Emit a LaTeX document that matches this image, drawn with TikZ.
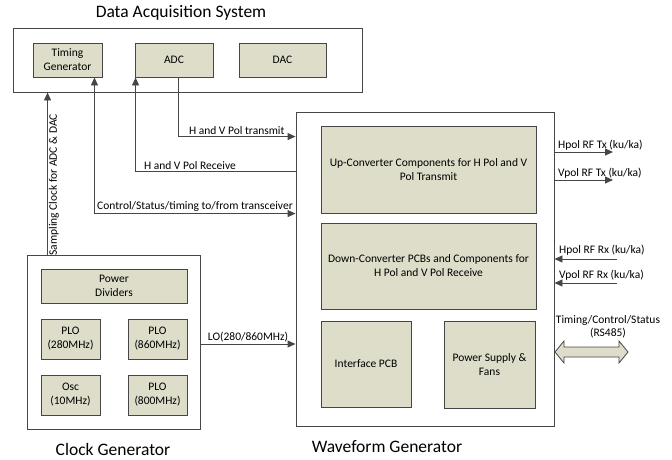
\documentclass[tikz,border=0pt]{standalone}
\usepackage{fontspec}
\setmainfont{Carlito}
\usetikzlibrary{arrows.meta}
\definecolor{boxfill}{RGB}{221,221,202}
\definecolor{edge}{RGB}{70,70,70}
\tikzset{
  outer/.style={draw=edge, line width=0.9pt, fill=white, inner sep=0pt},
  inbox/.style={draw=edge, line width=0.9pt, fill=boxfill, align=center, inner sep=1pt, font=\fontsize{11.5}{14}\selectfont},
  arr/.style={draw=edge, line width=0.9pt, -{Triangle[length=8pt,width=7pt]}},
  arrb/.style={draw=edge, line width=0.9pt, {Triangle[length=8pt,width=7pt]}-{Triangle[length=8pt,width=7pt]}},
  lbl/.style={font=\fontsize{11.5}{12.5}\selectfont, inner sep=1.5pt},
  ttl/.style={font=\fontsize{17.5}{19}\selectfont}
}
\begin{document}
\begin{tikzpicture}[x=1pt,y=-1pt]
\useasboundingbox (0,0) rectangle (672,459);
% Data acquisition system
\node[ttl] (dast) at (181,13) {Data Acquisition System};
\node[outer, minimum width=349pt, minimum height=64pt] (das) at (187.5,60) {};
\node[inbox, minimum width=69pt, minimum height=34pt] (tg) at (67.5,60) {Timing\\Generator};
\node[inbox, minimum width=78pt, minimum height=34pt] (adc) at (174,60) {ADC};
\node[inbox, minimum width=87pt, minimum height=34pt] (dac) at (282.5,60) {DAC};
% Clock generator
\node[outer, minimum width=173pt, minimum height=174pt] (cg) at (113.5,342) {};
\node[inbox, minimum width=146pt, minimum height=34pt] (pd) at (114,286) {Power\\Dividers};
\node[inbox, minimum width=59pt, minimum height=40pt] (plo1) at (70.5,339) {PLO\\(280MHz)};
\node[inbox, minimum width=59pt, minimum height=40pt] (plo2) at (157.5,339) {PLO\\(860MHz)};
\node[inbox, minimum width=59pt, minimum height=40pt] (osc) at (70.5,395) {Osc\\(10MHz)};
\node[inbox, minimum width=59pt, minimum height=40pt] (plo3) at (157.5,395) {PLO\\(800MHz)};
\node[ttl] (cgt) at (113,449) {Clock Generator};
% Waveform generator
\node[outer, minimum width=258pt, minimum height=314pt] (wg) at (425,269) {};
\node[inbox, minimum width=215pt, minimum height=87pt] (up) at (428.5,169.5) {Up-Converter Components for H Pol and V\\Pol Transmit};
\node[inbox, minimum width=215pt, minimum height=86pt] (down) at (428.5,266) {Down-Converter PCBs and Components for\\H Pol and V Pol Receive};
\node[inbox, minimum width=90pt, minimum height=86pt] (ifc) at (366,364) {Interface PCB};
\node[inbox, minimum width=91pt, minimum height=87pt] (ps) at (489.5,364.5) {Power Supply \&\\Fans};
\node[ttl] (wgt) at (387,447) {Waveform Generator};
% connectors between systems
\draw[arr] ([xshift=21pt]cg.north west) -- ([xshift=21pt]cg.north west |- das.south)
  node[pos=0.43, rotate=90, anchor=north, lbl, inner sep=1pt] {Sampling Clock for ADC \& DAC};
\draw[arr] ([xshift=4pt]adc.south) |- ([yshift=-25pt]wg.north west)
  node[pos=0.75, above, lbl] {H and V Pol transmit};
\draw[arr] ([yshift=-60pt]wg.north west) -| ([xshift=1pt]adc.south west)
  node[pos=0.33, above, lbl] {H and V Pol Receive};
\draw[arrb] ([xshift=-8pt]tg.south east) |- ([yshift=-102pt]wg.north west)
  node[pos=0.75, above, lbl] {Control/Status/timing to/from transceiver};
\draw[arr] ([yshift=-2pt]cg.east) -- ([yshift=-2pt]cg.east -| wg.west)
  node[midway, above, lbl] {LO(280/860MHz)};
% RF ports
\coordinate (htx) at (613,152);
\coordinate (vtx) at (613,180);
\coordinate (hrx) at (617,259);
\coordinate (vrx) at (617,283);
\draw[arr] (htx -| wg.east) -- (htx);
\draw[arr] (vtx -| wg.east) -- (vtx);
\draw[arr] (hrx) -- (hrx -| wg.east);
\draw[arr] (vrx) -- (vrx -| wg.east);
\node[lbl, anchor=south west] (lhtx) at ([xshift=2pt]htx -| wg.east) {Hpol RF Tx (ku/ka)};
\node[lbl, anchor=south west] (lvtx) at ([xshift=2pt]vtx -| wg.east) {Vpol RF Tx (ku/ka)};
\node[lbl, anchor=south west] (lhrx) at ([xshift=3pt,yshift=2pt]hrx -| wg.east) {Hpol RF Rx (ku/ka)};
\node[lbl, anchor=south west] (lvrx) at ([xshift=3pt,yshift=1pt]vrx -| wg.east) {Vpol RF Rx (ku/ka)};
% RS485 double arrow
\draw[draw=edge, line width=0.8pt, fill=boxfill]
  (555,352) -- (564,341) -- (564,347) -- (619,347) -- (619,341) -- (628,352)
  -- (619,363) -- (619,357) -- (564,357) -- (564,363) -- cycle;
\node[lbl, align=center] (rs) at (608,327) {Timing/Control/Status\\(RS485)};
\end{tikzpicture}
\end{document}
